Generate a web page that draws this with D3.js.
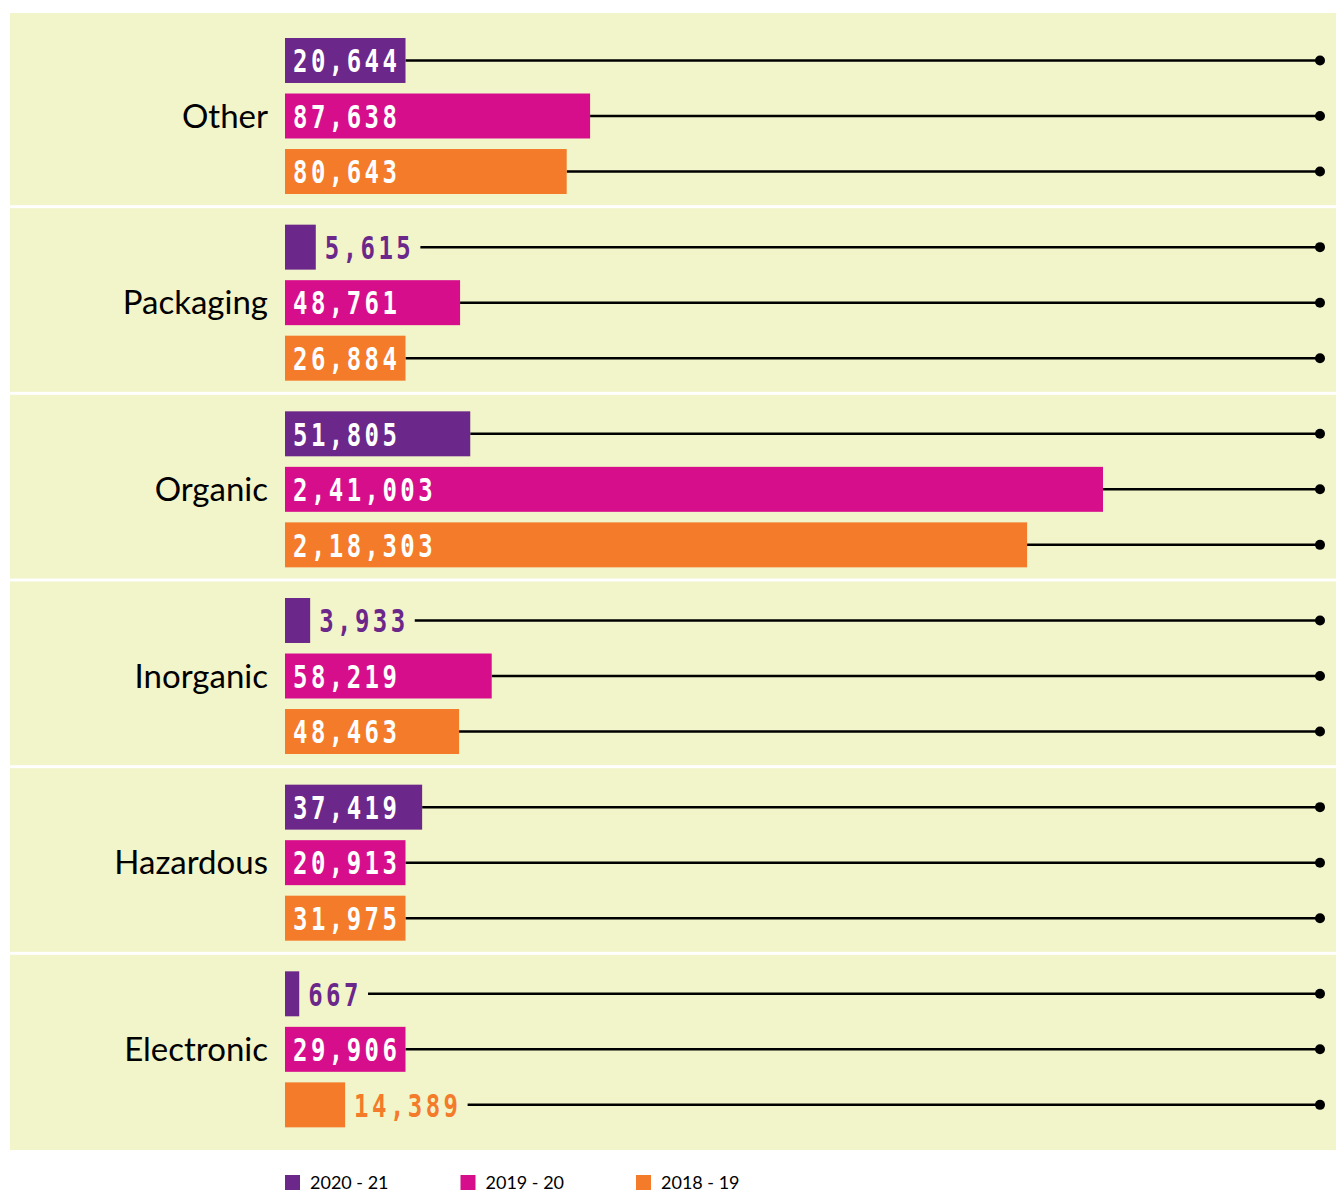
<!DOCTYPE html>
<html>
<head>
<meta charset="utf-8">
<script src="https://cdn.jsdelivr.net/npm/d3@7"></script>
<style>
  html, body { margin: 0; padding: 0; background: #ffffff; }
  svg { display: block; }
</style>
</head>
<body>
<svg id="chart" width="1336" height="1195"></svg>
<script>
// Waste collected by category, three financial years
const categories = ["Other", "Packaging", "Organic", "Inorganic", "Hazardous", "Electronic"];
const seriesNames = ["2020 - 21", "2019 - 20", "2018 - 19"];
const values2020_21 = [20644, 5615, 51805, 3933, 37419, 667];
const values2019_20 = [87638, 48761, 241003, 58219, 20913, 29906];
const values2018_19 = [80643, 26884, 218303, 48463, 31975, 14389];
const seriesColors = ["#6b2789", "#d60e8c", "#f37b2a"];

const seriesValues = [values2020_21, values2019_20, values2018_19];

// Indian digit grouping: 2,41,003
function formatIN(v) {
  const s = String(Math.round(v));
  if (s.length <= 3) return s;
  const last3 = s.slice(-3);
  let rest = s.slice(0, -3);
  const parts = [];
  while (rest.length > 2) { parts.unshift(rest.slice(-2)); rest = rest.slice(0, -2); }
  if (rest) parts.unshift(rest);
  return parts.join(",") + "," + last3;
}

const svg = d3.select("#chart");
const W = 1336;
const panelLeft = 10, panelTop = 13, panelBottom = 1150;
const barX0 = 285;
const lineEnd = 1320;

const rows = [];
categories.forEach((c, i) => {
  seriesNames.forEach((s, j) => {
    rows.push({ category: c, series: s, si: j, value: seriesValues[j][i] });
  });
});

// scales
const yGroup = d3.scaleBand().domain(categories).range([20, 1140]);
const ySeries = d3.scaleBand().domain(seriesNames).range([18, 174]).paddingInner(0.19);
const maxVal = d3.max(rows, d => d.value);
const barWidth = d3.scaleLinear().domain([0, maxVal]).range([12, 818]);
const color = d3.scaleOrdinal().domain(seriesNames).range(seriesColors);

// value label metrics (condensed mono figures)
const labelScaleX = 0.75, labelFont = 32, labelSpacing = 4.6;
const charAdv = 17.9, glyphW = 12, padIn = 9, padOut = 10;
const outsideBelow = 15000;
const spanOf = txt => (txt.length - 1) * charAdv + glyphW;

rows.forEach(d => {
  d.text = formatIN(d.value);
  d.outside = d.value < outsideBelow;
  const w = barWidth(d.value);
  d.w = d.outside ? w : Math.max(w, padIn + spanOf(d.text) + padOut);
  d.cy = yGroup(d.category) + ySeries(d.series) + ySeries.bandwidth() / 2;
  d.labelX = d.outside ? barX0 + d.w + padOut : barX0 + padIn;
  d.lineStart = d.outside ? d.labelX + spanOf(d.text) + 11 : barX0 + d.w;
});

// background panels
svg.append("g").selectAll("rect")
  .data(categories)
  .join("rect")
  .attr("x", panelLeft)
  .attr("y", (c, i) => i === 0 ? panelTop : yGroup(c) + 1.5)
  .attr("width", W - panelLeft)
  .attr("height", (c, i) => {
    const top = i === 0 ? panelTop : yGroup(c) + 1.5;
    const bot = i === categories.length - 1 ? panelBottom : yGroup(c) + yGroup.step() - 1.5;
    return bot - top;
  })
  .attr("fill", "#f2f4c9");

// leader lines with end dots
const leaders = svg.append("g");
leaders.selectAll("line")
  .data(rows)
  .join("line")
  .attr("x1", d => d.lineStart)
  .attr("x2", lineEnd)
  .attr("y1", d => d.cy)
  .attr("y2", d => d.cy)
  .attr("stroke", "#000")
  .attr("stroke-width", 2.5);
leaders.selectAll("circle")
  .data(rows)
  .join("circle")
  .attr("cx", lineEnd)
  .attr("cy", d => d.cy)
  .attr("r", 5)
  .attr("fill", "#000");

// bars
svg.append("g").selectAll("rect")
  .data(rows)
  .join("rect")
  .attr("x", barX0)
  .attr("y", d => yGroup(d.category) + ySeries(d.series))
  .attr("width", d => d.w)
  .attr("height", ySeries.bandwidth())
  .attr("fill", d => color(d.series));

// value labels
svg.append("g").selectAll("g")
  .data(rows)
  .join("g")
  .attr("transform", d => `translate(${d.labelX - 1},${d.cy + 11.7}) scale(${labelScaleX},1)`)
  .append("text")
  .attr("font-family", "'DejaVu Sans Mono', monospace")
  .attr("font-weight", "bold")
  .attr("font-size", labelFont)
  .attr("letter-spacing", labelSpacing)
  .attr("fill", d => d.outside ? color(d.series) : "#ffffff")
  .text(d => d.text);

// category labels
svg.append("g").selectAll("text")
  .data(categories)
  .join("text")
  .attr("x", 268)
  .attr("y", c => yGroup(c) + ySeries(seriesNames[1]) + ySeries.bandwidth() / 2 + 11.5)
  .attr("text-anchor", "end")
  .attr("font-family", "Lato, sans-serif")
  .attr("font-size", 33)
  .attr("fill", "#000")
  .text(c => c);

// legend
const legendX = d3.scaleBand().domain(seriesNames).range([285, 285 + 3 * 175.5]);
const legend = svg.append("g").selectAll("g")
  .data(seriesNames)
  .join("g")
  .attr("transform", s => `translate(${legendX(s)},1175)`);
legend.append("rect")
  .attr("width", 15)
  .attr("height", 15)
  .attr("fill", s => color(s));
legend.append("text")
  .attr("x", 25)
  .attr("y", 14)
  .attr("font-family", "Lato, sans-serif")
  .attr("font-size", 18)
  .attr("fill", "#000")
  .text(s => s);
</script>
</body>
</html>
